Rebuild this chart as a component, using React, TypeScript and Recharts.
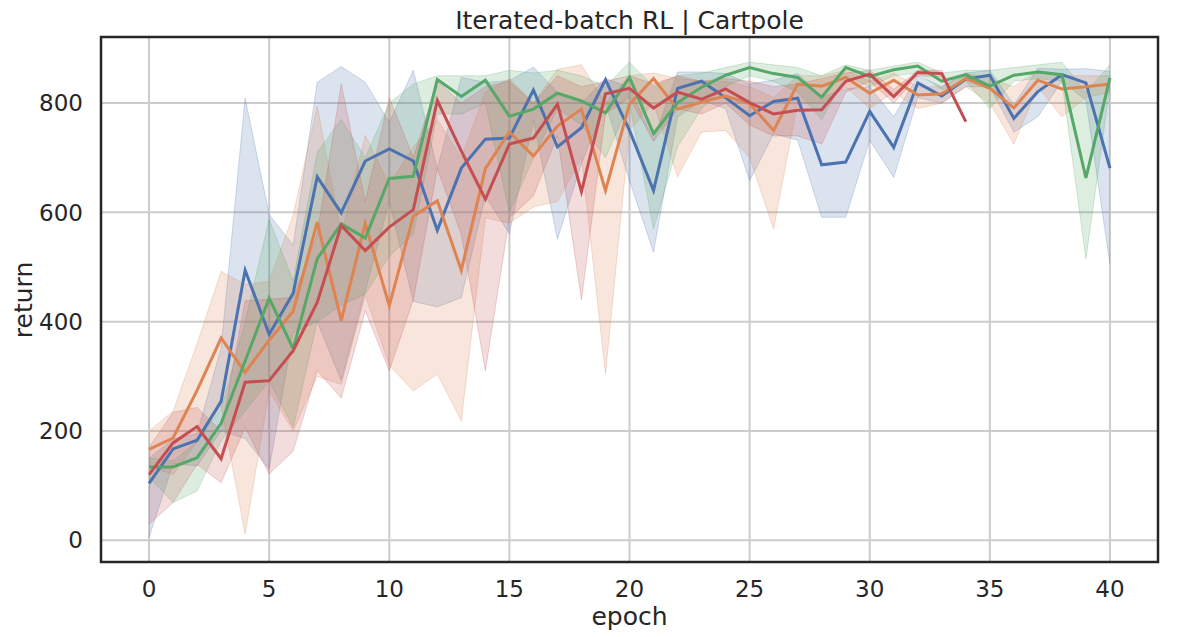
import React from "react";
import {
  ComposedChart,
  Line,
  Area,
  XAxis,
  YAxis,
  CartesianGrid,
  ReferenceArea,
} from "recharts";

const epochs = [0, 1, 2, 3, 4, 5, 6, 7, 8, 9, 10, 11, 12, 13, 14, 15, 16, 17, 18, 19, 20, 21, 22, 23, 24, 25, 26, 27, 28, 29, 30, 31, 32, 33, 34, 35, 36, 37, 38, 39, 40];
const xTicks = [0, 5, 10, 15, 20, 25, 30, 35, 40];
const yTicks = [0, 200, 400, 600, 800];

const blueMean = [104, 167, 183, 254, 494, 377, 452, 665, 599, 694, 716, 694, 567, 681, 734, 736, 824, 720, 755, 843, 750, 640, 827, 840, 810, 777, 803, 809, 687, 692, 785, 719, 837, 813, 844, 851, 772, 821, 852, 837, 681];
const blueLo = [5, 140, 136, 200, 186, 130, 380, 400, 292, 456, 620, 437, 427, 444, 630, 561, 768, 551, 689, 799, 658, 527, 774, 805, 790, 658, 744, 732, 591, 591, 732, 664, 810, 800, 830, 830, 747, 775, 840, 805, 505];
const blueHi = [150, 185, 195, 352, 809, 596, 540, 838, 867, 838, 765, 860, 680, 847, 838, 841, 866, 820, 800, 845, 829, 732, 857, 857, 854, 835, 842, 854, 811, 826, 830, 775, 850, 830, 855, 860, 797, 864, 862, 863, 858];

const orangeMean = [166, 187, 274, 370, 307, 366, 419, 582, 402, 580, 429, 593, 621, 494, 680, 747, 703, 758, 789, 640, 798, 845, 789, 802, 813, 799, 750, 835, 831, 847, 818, 842, 815, 817, 845, 827, 791, 842, 826, 830, 835];
const orangeLo = [135, 120, 180, 245, 11, 273, 200, 300, 285, 448, 320, 273, 304, 218, 590, 580, 610, 620, 700, 305, 750, 800, 665, 747, 750, 700, 570, 800, 800, 830, 790, 820, 790, 800, 830, 800, 725, 830, 775, 810, 820];
const orangeHi = [200, 236, 360, 492, 468, 474, 595, 795, 560, 741, 650, 720, 770, 700, 820, 845, 800, 862, 870, 800, 850, 855, 845, 840, 840, 830, 810, 850, 850, 860, 840, 855, 830, 830, 855, 845, 830, 860, 850, 850, 850];

const greenMean = [134, 134, 151, 214, 328, 443, 350, 515, 579, 553, 662, 666, 843, 812, 842, 776, 789, 818, 804, 782, 847, 744, 801, 829, 851, 865, 854, 847, 811, 865, 849, 861, 868, 840, 852, 831, 851, 857, 852, 663, 846];
const greenLo = [115, 69, 90, 182, 237, 291, 206, 400, 430, 450, 520, 560, 780, 780, 800, 600, 700, 790, 760, 700, 800, 570, 720, 790, 830, 850, 840, 820, 770, 850, 830, 850, 855, 825, 840, 790, 840, 845, 840, 515, 830];
const greenHi = [151, 145, 180, 240, 400, 587, 474, 710, 770, 700, 800, 835, 850, 850, 850, 860, 855, 860, 850, 830, 875, 830, 850, 855, 865, 875, 870, 865, 850, 870, 860, 868, 875, 855, 860, 860, 865, 870, 875, 820, 870];

const redMean = [120, 178, 208, 149, 289, 292, 347, 435, 576, 530, 573, 605, 805, 712, 624, 725, 736, 798, 638, 817, 827, 791, 820, 807, 826, 801, 780, 787, 788, 840, 853, 812, 856, 854, 766];
const redLo = [29, 69, 139, 105, 206, 121, 163, 310, 260, 420, 310, 440, 680, 560, 310, 590, 630, 740, 440, 780, 810, 730, 790, 780, 800, 760, 740, 740, 725, 820, 840, 800, 850, 848, 766];
const redHi = [170, 234, 243, 200, 438, 441, 444, 560, 835, 620, 810, 700, 840, 800, 830, 840, 800, 850, 830, 840, 850, 835, 850, 840, 845, 840, 830, 835, 845, 855, 860, 825, 860, 860, 766];

const BLUE = "#4C72B0";
const ORANGE = "#DD8452";
const GREEN = "#55A868";
const RED = "#C44E52";
const TEXT = "#262626";
const FONT = "'DejaVu Sans', sans-serif";

const data = epochs.map((e, i) => ({
  epoch: e,
  blue: blueMean[i],
  blueBand: [blueLo[i], blueHi[i]],
  orange: orangeMean[i],
  orangeBand: [orangeLo[i], orangeHi[i]],
  green: greenMean[i],
  greenBand: [greenLo[i], greenHi[i]],
  red: i < redMean.length ? redMean[i] : null,
  redBand: i < redMean.length ? [redLo[i], redHi[i]] : null,
}));

const series = [
  { key: "blue", color: BLUE },
  { key: "orange", color: ORANGE },
  { key: "green", color: GREEN },
  { key: "red", color: RED },
];

export default function App() {
  const W = 1189;
  const H = 637;
  return (
    <div style={{ position: "absolute", left: 0, top: 0, width: W, height: H, background: "#fff" }}>
      <ComposedChart
        width={W}
        height={H}
        data={data}
        margin={{ top: 37, right: 31, bottom: 0, left: 0 }}
      >
        <CartesianGrid stroke="#cccccc" strokeWidth={2} />
        <XAxis
          dataKey="epoch"
          type="number"
          domain={[-2, 42]}
          ticks={xTicks}
          allowDataOverflow
          height={75}
          axisLine={false}
          tickLine={false}
          tickMargin={13}
          tick={{ fill: TEXT, fontSize: 23, fontFamily: FONT }}
          interval={0}
        />
        <YAxis
          type="number"
          domain={[-40, 921]}
          ticks={yTicks}
          allowDataOverflow
          width={101}
          axisLine={false}
          tickLine={false}
          tickMargin={12}
          tick={{ fill: TEXT, fontSize: 23, fontFamily: FONT }}
          interval={0}
        />
        {series.map((s) => (
          <Area
            key={s.key + "Band"}
            dataKey={s.key + "Band"}
            type="linear"
            stroke={s.color}
            strokeOpacity={0.25}
            strokeWidth={1}
            fill={s.color}
            fillOpacity={0.2}
            isAnimationActive={false}
            dot={false}
            activeDot={false}
          />
        ))}
        {series.map((s) => (
          <Line
            key={s.key}
            dataKey={s.key}
            type="linear"
            stroke={s.color}
            strokeWidth={3}
            dot={false}
            activeDot={false}
            isAnimationActive={false}
          />
        ))}
        <ReferenceArea
          x1={-2}
          x2={42}
          y1={-40}
          y2={921}
          fill="none"
          stroke="#262626"
          strokeWidth={2.5}
          ifOverflow="visible"
        />
      </ComposedChart>
      <svg
        width={W}
        height={H}
        style={{ position: "absolute", left: 0, top: 0, pointerEvents: "none" }}
      >
        <text x={629.5} y={29} textAnchor="middle" fontSize={25} fontFamily={FONT} fill={TEXT}>
          Iterated-batch RL | Cartpole
        </text>
        <text x={629.5} y={625} textAnchor="middle" fontSize={25} fontFamily={FONT} fill={TEXT}>
          epoch
        </text>
        <text
          x={32}
          y={300}
          textAnchor="middle"
          fontSize={25}
          fontFamily={FONT}
          fill={TEXT}
          transform="rotate(-90, 32, 300)"
        >
          return
        </text>
      </svg>
    </div>
  );
}
